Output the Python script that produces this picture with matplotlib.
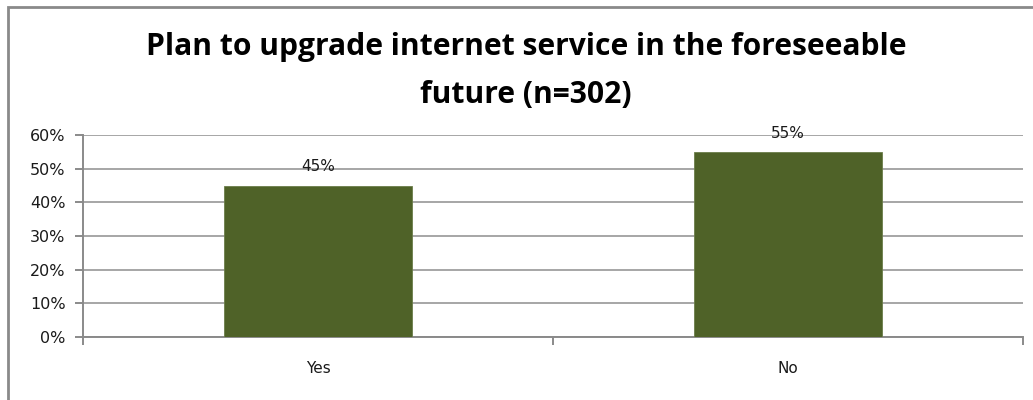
import matplotlib
matplotlib.use("Agg")
import matplotlib.pyplot as plt
from matplotlib.lines import Line2D
from matplotlib.ticker import FixedLocator, PercentFormatter

categories = ["Yes", "No"]
shares = [0.45, 0.55]
y_ticks = [0.0, 0.1, 0.2, 0.3, 0.4, 0.5, 0.6]
title_lines = ["Plan to upgrade internet service in the foreseeable", "future (n=302)"]

W, H = 1033, 400
fig = plt.figure(figsize=(W / 100, H / 100), dpi=100)
fig.patch.set_facecolor("white")

# chart frame (top and left edges)
frame_col = "#8a8a8a"
fig.add_artist(Line2D([7.5 / W, 7.5 / W, 1.0], [0.0, 1 - 6.5 / H, 1 - 6.5 / H],
                      transform=fig.transFigure, color=frame_col, lw=2.0,
                      solid_capstyle="butt", solid_joinstyle="miter"))

ax = fig.add_axes([83 / W, 1 - 337 / H, (1023 - 83) / W, (337 - 135) / H])
x = list(range(len(categories)))
bars = ax.bar(x, shares, width=0.4, color="#4f6228", edgecolor="#6b7d4a",
              linewidth=0.6, zorder=3)

ax.set_xlim(-0.5, len(categories) - 0.5)
ax.set_ylim(0, 0.6)
ax.set_yticks(y_ticks)
ax.yaxis.set_major_formatter(PercentFormatter(1.0, decimals=0))
ax.yaxis.grid(True, color="#a6a6a6", lw=1.4, zorder=0)
ax.set_axisbelow(True)

ax.set_xticks(x)
ax.set_xticklabels(categories)
ax.xaxis.set_minor_locator(FixedLocator([i - 0.5 for i in range(len(categories) + 1)]))
ax.tick_params(axis="x", which="major", length=0, pad=17, labelsize=11, labelcolor="#1a1a1a")
ax.tick_params(axis="x", which="minor", length=6, width=1.4, color=frame_col, direction="out")
ax.tick_params(axis="y", length=6, width=1.4, color=frame_col, direction="out",
               pad=6.5, labelsize=11.5, labelcolor="#1a1a1a")

for s in ("top", "right"):
    ax.spines[s].set_visible(False)
for s in ("left", "bottom"):
    ax.spines[s].set_color(frame_col)
    ax.spines[s].set_linewidth(1.4)

for rect, v in zip(bars, shares):
    ax.annotate(f"{v * 100:.0f}%", (rect.get_x() + rect.get_width() / 2, v),
                xytext=(0, 8), textcoords="offset points", ha="center", va="bottom",
                fontsize=11, color="#1a1a1a")

title_font = dict(family="Open Sans", weight="bold", color="black", ha="center", va="center")
fig.text(526 / W, 1 - 47 / H, title_lines[0], fontsize=21.6, **title_font)
fig.text(526 / W, 1 - 95 / H, title_lines[1], fontsize=21.6, **title_font)

fig.savefig("out.png", dpi=100, facecolor="white")
